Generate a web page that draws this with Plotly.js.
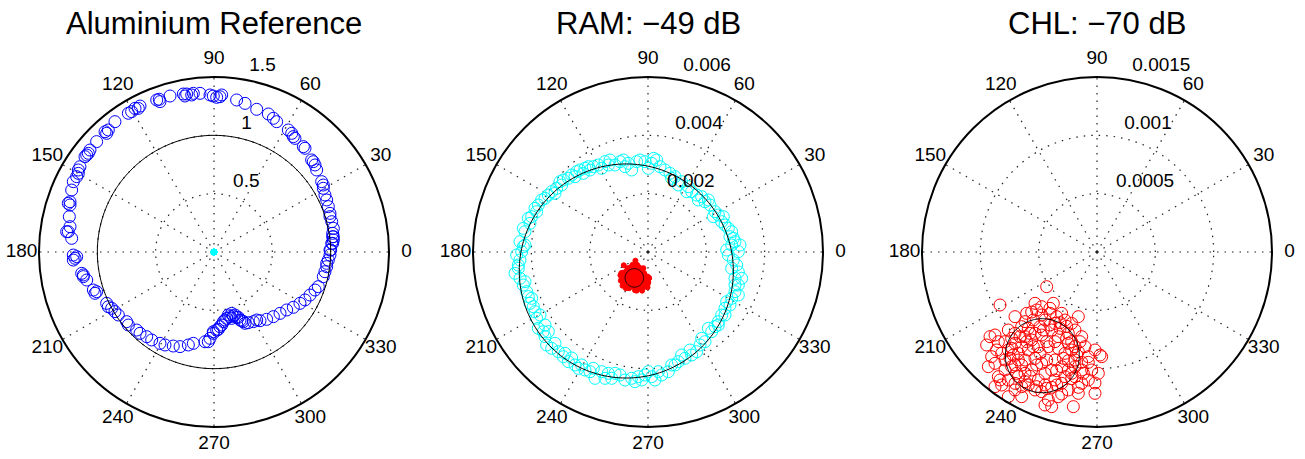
<!DOCTYPE html>
<html><head><meta charset="utf-8">
<script src="https://cdn.plot.ly/plotly-3.0.1.min.js"></script>
<style>html,body{margin:0;padding:0;background:#fff}#chart{width:1305px;height:459px}</style>
</head><body><div id="chart"></div>
<script>
// ---------- text ----------
const panelTitles = ["Aluminium Reference", "RAM: \u221249 dB", "CHL: \u221270 dB"];
const angleTicks = [0, 30, 60, 90, 120, 150, 180, 210, 240, 270, 300, 330];
const angleTickLabels = ["0", "30", "60", "90", "120", "150", "180", "210", "240", "270", "300", "330"];
const radialTicksAlu = [0.5, 1, 1.5];
const radialLabelsAlu = ["0.5", "1", "1.5"];
const radialTicksRam = [0.002, 0.004, 0.006];
const radialLabelsRam = ["0.002", "0.004", "0.006"];
const radialTicksChl = [0.0005, 0.001, 0.0015];
const radialLabelsChl = ["0.0005", "0.001", "0.0015"];

// ---------- Aluminium reference (real / imaginary parts) ----------
const aluRe = [
-1.220,-1.249,-1.234,-1.240,-1.249,-1.234,-1.220,-1.206,-1.177,-1.163,
-1.149,-1.106,-1.077,-1.063,-1.006,-0.934,-0.906,-0.849,-0.734,-0.706,
-0.677,-0.634,-0.491,-0.469,-0.377,-0.263,-0.234,-0.177,-0.120,-0.034,
-0.006,0.051,0.194,0.266,0.366,0.466,0.509,0.537,0.637,0.666,
0.680,0.766,0.780,0.837,0.866,0.880,0.923,0.937,0.951,0.966,
0.980,0.994,1.009,1.023,1.017,1.023,1.017,
-1.206,-1.191,-1.177,-1.134,-1.120,-1.091,-1.034,-1.020,-0.920,-0.906,
-0.849,-0.820,-0.749,-0.734,-0.663,-0.634,-0.577,-0.534,-0.463,-0.420,
-0.349,-0.291,-0.220,-0.177,-0.077,-0.034,-0.006,0.023,0.051,0.080,
0.109,0.137,0.166,0.194,0.223,0.251,0.294,0.337,0.394,0.451,
0.509,0.566,0.623,0.680,0.737,0.780,0.823,0.866,0.894,0.937,
0.951,0.966,0.980,0.994,1.000,1.009,1.017,
0.123,0.151,0.180,0.209,0.094,0.066,0.037,-0.049,0.266,0.366,
-0.249,-0.191,0.023,0.066,-0.463,-0.649,-0.920,-1.091,-1.163,-1.234,
-1.263,0.694,0.851,0.937,0.994,1.023,-1.206,-1.120,-1.006,-0.877,
-0.006,0.151,0.237,0.966,0.994
];
const aluIm = [
0.117,0.174,0.217,0.303,0.417,0.431,0.531,0.603,0.646,0.674,
0.731,0.817,0.846,0.874,0.946,1.031,1.046,1.117,1.189,1.203,
1.231,1.251,1.303,1.309,1.337,1.354,1.354,1.360,1.360,1.346,
1.337,1.331,1.303,1.274,1.223,1.183,1.146,1.117,1.046,1.017,
0.989,0.903,0.889,0.789,0.746,0.703,0.603,0.574,0.489,0.446,
0.389,0.331,0.260,0.203,0.160,0.103,0.074,
-0.026,-0.054,-0.040,-0.183,-0.211,-0.240,-0.326,-0.354,-0.440,-0.469,
-0.511,-0.540,-0.597,-0.626,-0.669,-0.697,-0.726,-0.754,-0.783,-0.797,
-0.806,-0.811,-0.797,-0.783,-0.769,-0.740,-0.697,-0.669,-0.640,-0.597,
-0.569,-0.554,-0.549,-0.560,-0.583,-0.597,-0.606,-0.597,-0.589,-0.577,
-0.554,-0.526,-0.497,-0.474,-0.440,-0.411,-0.369,-0.326,-0.297,-0.211,
-0.169,-0.126,-0.069,-0.026,0.017,0.074,0.131,
-0.540,-0.526,-0.540,-0.560,-0.583,-0.626,-0.663,-0.769,-0.611,-0.583,
1.337,1.346,1.326,1.346,1.289,1.231,1.017,0.831,0.703,0.403,
0.174,0.974,0.774,0.546,0.303,0.131,-0.069,-0.197,-0.340,-0.483,
-0.683,-0.569,-0.589,-0.097,0.017
];
const aluFit = {re: 0, im: 0, radius: 1};

// ---------- RAM (values in units of 1e-3) ----------
const ramRe_e3 = [
-4.446,-4.331,-4.274,-4.389,-4.217,-4.274,-4.103,-3.989,-3.874,-3.760,
-3.531,-3.417,-3.303,-3.131,-3.017,-2.903,-2.731,-2.617,-2.446,-2.331,
-2.160,-1.989,-1.874,-1.703,-1.474,-1.303,-1.131,-0.960,-0.846,-0.674,
-0.560,-0.389,-0.274,-0.103,0.126,0.297,0.411,0.583,0.754,0.926,
1.154,1.383,1.497,1.669,1.840,1.954,2.126,2.297,2.411,2.526,
2.640,2.754,2.869,2.926,2.983,2.869,2.754,2.926,3.040,2.697,
-4.446,-4.389,-4.274,-4.160,-4.103,-4.046,-3.874,-3.817,-3.760,-3.589,
-3.531,-3.474,-3.303,-3.074,-2.903,-2.731,-2.503,-2.389,-2.160,-1.989,
-1.817,-1.589,-1.360,-1.246,-0.960,-0.789,-0.560,-0.331,-0.103,0.126,
0.354,0.697,0.926,1.040,1.269,1.497,1.669,1.783,1.954,2.183,
2.297,2.411,2.526,2.640,2.697,2.869,2.983,3.097,2.983,3.097,2.869,
-4.503,-4.389,-4.217,-4.046,-3.817,-3.646,-3.189,-2.960,-2.503,-2.217,
-2.046,-1.589,-1.360,-0.789,0.011,0.194,0.811,1.040,1.326,1.726,
2.069,2.240,2.583,2.811,3.097,3.154,
-4.560,-4.217,-3.989,-3.703,-3.931,-3.531,-3.417,-3.189,-2.846,-2.617,
-2.274,-1.874,-1.474,-1.131,-0.446,-0.217,0.011,0.240,0.469,0.811,
1.154,1.440,1.840,2.069,2.411,2.640,2.811,3.097,3.211,2.983
];
const ramIm_e3 = [
-0.446,0.011,0.183,0.354,0.697,0.811,1.154,1.211,1.497,1.611,
1.840,1.954,2.069,2.183,2.411,2.469,2.526,2.640,2.754,2.811,
2.869,2.811,2.926,2.983,3.097,3.154,2.983,3.097,3.154,3.040,
2.811,3.097,3.154,3.097,3.040,3.154,2.926,2.811,2.697,2.583,
2.411,2.240,2.069,1.954,1.897,1.726,1.611,1.383,1.269,1.040,
0.926,0.811,0.697,0.469,0.354,0.240,-0.103,-0.274,-0.446,0.069,
-0.560,-0.903,-1.131,-1.360,-1.531,-1.760,-2.046,-2.274,-2.617,-2.731,
-2.903,-3.189,-3.303,-3.417,-3.589,-3.760,-3.874,-3.989,-4.046,-4.103,
-4.331,-4.103,-4.160,-4.331,-4.217,-4.389,-4.331,-4.274,-4.217,-4.274,
-4.103,-4.103,-3.874,-3.760,-3.646,-3.531,-3.417,-3.189,-3.074,-2.731,
-2.560,-2.389,-2.160,-1.931,-1.703,-1.589,-1.360,-1.131,-0.903,-0.686,-0.560,
-0.103,-0.274,0.240,0.983,1.383,1.783,2.011,2.297,2.583,2.697,
2.926,2.869,2.983,2.926,2.869,3.211,2.526,2.297,2.069,1.783,
1.783,1.211,1.211,0.526,0.011,0.240,
-0.731,-1.017,-1.589,-2.160,-1.874,-2.503,-2.731,-3.131,-3.474,-3.634,
-3.874,-3.989,-4.331,-4.160,-4.446,-4.389,-4.103,-4.389,-4.217,-3.874,
-3.531,-3.360,-2.960,-2.617,-2.503,-2.160,-1.817,-1.474,-0.903,-1.131
];
const ramFit = {re: -0.744e-3, im: -0.651e-3, radius: 3.67e-3};

// ---------- CHL (values in units of 1e-4) ----------
const chlRe_e4 = [
-4.314,-8.314,-5.314,-3.743,-7.029,-6.029,-5.171,-4.743,-4.029,-3.029,
-1.600,-2.171,-9.171,-8.743,-9.457,-8.457,-7.600,-7.029,-6.457,-5.886,
-5.457,-4.457,-3.600,-2.743,-1.886,-1.314,-2.457,-3.314,-3.886,-4.743,
-5.600,-6.171,-7.029,-7.600,-8.171,-9.029,-8.743,-7.886,-6.743,-5.886,
-5.029,-4.171,-3.314,-2.743,-2.171,-1.886,-0.743,0.400,-0.171,-1.029,
-0.457,0.114,-0.743,-1.314,-0.171,-1.886,-2.457,-3.029,-3.600,-3.886,
-4.457,-4.743,-5.314,-6.171,-7.029,-7.886,-8.457,-8.743,-8.171,-7.600,
-6.743,-6.171,-5.600,-5.029,-5.886,-6.457,-7.029,-7.600,-5.314,-4.457,
-3.600,-3.029,-2.457,-1.600,-3.314,-4.171,-3.886,-4.457,-2.029,-1.314,
-4.886,-6.600,-5.743,-4.886,-4.029,-3.171,-2.600,-2.171,-1.886,-1.743,
-1.886,-2.171,-2.743,-3.457,-4.314,-5.171,-6.171,-6.886,-7.314,-7.457,
-7.314,-2.886,-3.600,-4.314,-5.314,-6.457,
-7.886,-7.171,-6.457,-5.743,-4.743,-3.029,-1.600,-1.171,-0.743,-1.457,
-2.600,-3.457,-4.743,-6.171,-7.314,-8.600,-9.314,-8.314,-7.029,-6.457,
-3.886,-2.171,-1.314,-1.600,-2.457,-5.171,-4.314,-5.457,-6.743,-3.457,
-2.457,-4.600,-3.171,-6.029,-0.171,0.257,-4.029,-5.600
];
const chlIm_e4 = [
-2.971,-4.543,-4.400,-4.400,-5.543,-5.257,-4.971,-4.686,-5.257,-5.257,
-5.543,-6.114,-7.257,-7.114,-7.971,-7.686,-6.686,-6.971,-6.400,-6.543,
-5.829,-5.829,-6.114,-5.829,-6.686,-7.257,-6.971,-7.257,-6.686,-7.114,
-7.543,-7.257,-7.829,-8.400,-8.686,-8.971,-9.543,-9.257,-8.686,-8.400,
-8.114,-8.114,-8.257,-8.686,-8.400,-9.257,-8.971,-8.971,-8.400,-8.114,
-10.114,-10.400,-10.971,-11.257,-12.114,-10.686,-10.114,-9.829,-9.257,-10.114,
-10.400,-9.543,-9.114,-9.257,-9.686,-10.114,-10.686,-11.543,-11.400,-10.971,
-10.686,-10.400,-10.114,-10.971,-11.400,-11.543,-11.829,-12.400,-11.829,-11.400,
-10.971,-11.257,-11.829,-12.114,-12.400,-12.686,-13.257,-13.114,-13.257,-10.114,
-8.686,-7.257,-6.971,-6.400,-6.257,-6.543,-7.400,-7.686,-8.114,-8.829,
-9.829,-10.400,-10.686,-11.400,-11.686,-11.543,-11.114,-10.400,-9.829,-9.114,
-8.257,-9.114,-7.686,-7.686,-6.971,-8.114,
-7.686,-8.829,-9.686,-10.657,-11.971,-12.171,-11.600,-10.400,-9.457,-7.686,
-6.371,-5.543,-5.400,-5.971,-7.400,-8.400,-9.829,-10.971,-11.257,-12.400,
-11.600,-10.857,-9.457,-8.543,-7.829,-9.686,-9.257,-8.114,-9.257,-10.171,
-9.314,-6.686,-6.057,-7.686,-11.229,-8.829,-4.829,-5.143
];
const chlFit = {re: -4.686e-4, im: -8.886e-4, radius: 3.17e-4};

// ---------- helpers ----------
const FONT = 'Liberation Sans, Arial, Helvetica, sans-serif';
const W = 1305, H = 459, R = 175, CY = 252, LABEL_SCALE = 1.12;
function toPolar(re, im, scale) {
  const r = [], th = [];
  for (let i = 0; i < re.length; i++) {
    const x = re[i] * scale, y = im[i] * scale;
    r.push(Math.hypot(x, y));
    th.push(Math.atan2(y, x) * 180 / Math.PI);
  }
  return {r: r, theta: th};
}
function circlePts(c) {
  const re = [], im = [];
  for (let k = 0; k <= 180; k++) {
    const t = 2 * Math.PI * k / 180;
    re.push(c.re + c.radius * Math.cos(t));
    im.push(c.im + c.radius * Math.sin(t));
  }
  return toPolar(re, im, 1);
}
function scatter(sub, p, color, size, symbol) {
  return {type: 'scatterpolar', subplot: sub, mode: 'markers', r: p.r, theta: p.theta,
    marker: {symbol: symbol, size: size, color: color, line: {color: color, width: 1}},
    hoverinfo: 'skip', showlegend: false};
}
function line(sub, p) {
  return {type: 'scatterpolar', subplot: sub, mode: 'lines', r: p.r, theta: p.theta,
    line: {color: '#000', width: 1}, hoverinfo: 'skip', showlegend: false};
}
function angleLabels(sub, rmax) {
  return {type: 'scatterpolar', subplot: sub, mode: 'text',
    r: angleTicks.map(() => rmax * 1.1), theta: angleTicks, text: angleTickLabels,
    textposition: 'middle center', cliponaxis: false,
    textfont: {family: FONT, size: 19, color: '#000'}, hoverinfo: 'skip', showlegend: false};
}
function radialLabels(sub, ticks, labels) {
  const rinc = ticks[0];
  return {type: 'scatterpolar', subplot: sub, mode: 'text',
    r: ticks.map(v => v + rinc / 20), theta: ticks.map(() => 82),
    text: labels.map(s => '\u00a0\u00a0' + s),
    textposition: 'top right', cliponaxis: false,
    textfont: {family: FONT, size: 19, color: '#000'}, hoverinfo: 'skip', showlegend: false};
}
function polarLayout(cx, rmax, ticks) {
  const gd = '1.5px,6px';
  return {
    domain: {x: [(cx - R) / W, (cx + R) / W], y: [(H - CY - R) / H, (H - CY + R) / H]},
    bgcolor: '#fff',
    radialaxis: {range: [0, rmax], tickmode: 'array', tickvals: ticks, showticklabels: false,
      ticks: '', showline: false, showgrid: true, gridcolor: '#222', gridwidth: 1.2, griddash: gd},
    angularaxis: {tickmode: 'array', tickvals: angleTicks, showticklabels: false, ticks: '',
      showline: true, linecolor: '#000', linewidth: 2, showgrid: true, gridcolor: '#222',
      gridwidth: 1.2, griddash: gd, rotation: 0, direction: 'counterclockwise'}
  };
}
// transparent overlay subplot with the same centre, used only to place the tick label texts
function labelLayout(cx, rmax) {
  const RL = R * LABEL_SCALE;
  return {
    domain: {x: [(cx - RL) / W, (cx + RL) / W], y: [(H - CY - RL) / H, (H - CY + RL) / H]},
    bgcolor: 'rgba(0,0,0,0)',
    radialaxis: {range: [0, rmax * LABEL_SCALE], showticklabels: false, ticks: '', showline: false, showgrid: false},
    angularaxis: {showticklabels: false, ticks: '', showline: false, showgrid: false,
      rotation: 0, direction: 'counterclockwise'}
  };
}

const alu = toPolar(aluRe, aluIm, 1);
const ram = toPolar(ramRe_e3, ramIm_e3, 1e-3);
const chl = toPolar(chlRe_e4, chlIm_e4, 1e-4);

const traces = [
  // panel 1
  scatter('polar', alu, '#0000ff', 12, 'circle-open'),
  line('polar', circlePts(aluFit)),
  scatter('polar', ram, '#00ffff', 5, 'circle'),
  // panel 2
  scatter('polar2', ram, '#00ffff', 12, 'circle-open'),
  line('polar2', circlePts(ramFit)),
  scatter('polar2', chl, '#ff0000', 5, 'circle'),
  line('polar2', circlePts(chlFit)),
  // panel 3
  scatter('polar3', chl, '#ff0000', 12, 'circle-open'),
  line('polar3', circlePts(chlFit)),
  // labels
  angleLabels('polar4', 1.5),
  radialLabels('polar4', radialTicksAlu, radialLabelsAlu),
  angleLabels('polar5', 0.006),
  radialLabels('polar5', radialTicksRam, radialLabelsRam),
  angleLabels('polar6', 0.0015),
  radialLabels('polar6', radialTicksChl, radialLabelsChl)
];

const centers = [214, 648, 1097];
const layout = {
  width: W, height: H,
  margin: {l: 0, r: 0, t: 0, b: 0},
  paper_bgcolor: '#fff',
  font: {family: FONT, size: 19, color: '#000'},
  showlegend: false,
  polar: polarLayout(centers[0], 1.5, radialTicksAlu),
  polar2: polarLayout(centers[1], 0.006, radialTicksRam),
  polar3: polarLayout(centers[2], 0.0015, radialTicksChl),
  polar4: labelLayout(centers[0], 1.5),
  polar5: labelLayout(centers[1], 0.006),
  polar6: labelLayout(centers[2], 0.0015),
  annotations: panelTitles.map((t, i) => ({
    text: t, x: centers[i] / W, y: 1 - 23 / H, xref: 'paper', yref: 'paper',
    xanchor: 'center', yanchor: 'middle', showarrow: false,
    font: {family: FONT, size: 31, color: '#000'}
  }))
};
Plotly.newPlot('chart', traces, layout, {staticPlot: true, displayModeBar: false});
</script>
</body></html>
